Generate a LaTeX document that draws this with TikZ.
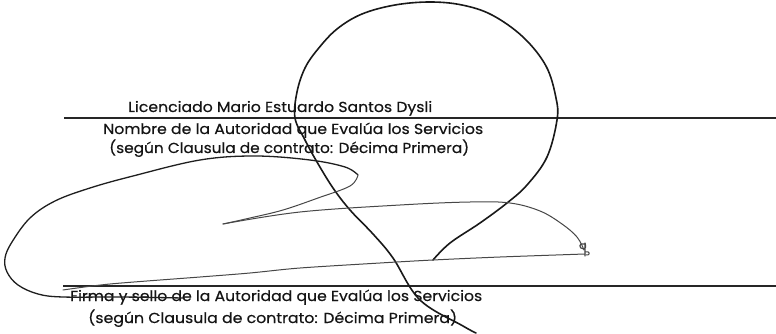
\documentclass[tikz,border=0pt]{standalone}
\usepackage{fontspec}
\newfontfamily\docfont[FakeBold=0.4]{Poppins}
\newcommand{\fitw}[2]{\resizebox{#1pt}{\height}{#2}}
\begin{document}
\begin{tikzpicture}[x=1pt,y=-1pt,
  txt/.style={font=\docfont\fontsize{14.5}{16}\selectfont, inner sep=0pt, anchor=base west, text=black!92},
  rule/.style={line width=1.6pt, black!85},
  pen/.style={line width=1.6pt, black!90, line cap=round, line join=round},
  thinpen/.style={line width=1.0pt, black!72, line cap=round, line join=round},
  midpen/.style={line width=1.3pt, black!88, line cap=round, line join=round}]
\useasboundingbox (0,0) rectangle (776,334);
\fill[white] (0,0) rectangle (776,334);

% rules
\draw[rule] (64,118) -- (776,118);
\draw[rule] (63,286) -- (776,286);

% texts
\node[txt] (l1) at (128,112) {\fitw{304}{Licenciado Mario Estuardo Santos Dysli}};
\node[txt] (l2) at (103,134) {\fitw{380}{Nombre de la Autoridad que Evalúa los Servicios}};
\node[txt] (l3) at (109,153) {\fitw{360}{(según Clausula de contrato: Décima Primera)}};
\node[txt] (b1) at (70,301) {\fitw{412}{Firma y sello de la Autoridad que Evalúa los Servicios}};
\node[txt] (b2) at (88,323) {\fitw{369}{(según Clausula de contrato: Décima Primera)}};

% big loop
\draw[pen] plot[smooth, tension=0.6] coordinates {(476,333) (463,326) (420,300) (393,258) (373,234) (350,210) (333,188) (317,162) (305,140) (295,118) (297,92) (305,68) (318,49) (337,29) (362,14) (395,5) (430,2) (462,5) (492,15) (523,37) (546,66) (556,98) (557,120) (547,157) (527,185) (507,203) (480,223) (450,243) (433,260)};

% left swoop and loop
\draw[midpen] plot[smooth, tension=0.6] coordinates {(183,298) (120,297) (63,297) (38,294) (18,285) (7,272) (5,258) (12,242) (30,218) (55,201) (90,188) (133,176) (200,160) (255,156) (310,160) (345,167) (358,175)};
\draw[thinpen] plot[smooth, tension=0.6] coordinates {(358,175) (350,186) (318,198) (283,210) (250,218) (223,224)};
% long upper stroke to hook
\draw[thinpen] plot[smooth, tension=0.6] coordinates {(223,224) (300,212) (400,205) (470,202) (510,203) (540,211) (562,224) (577,237) (584,250)};
% hook flourish
\draw[thinpen, line width=1.2pt] (584,244) .. controls (579,242) and (578,249) .. (584,249) .. controls (586,249) and (586,246) .. (585,243) -- (585,256);
\draw[thinpen] (585,252) .. controls (590,250) and (591,256) .. (586,255);
% long lower stroke
\draw[thinpen] plot[smooth, tension=0.5] coordinates {(585,254) (500,257) (433,260) (380,263) (300,268) (250,273) (200,277) (110,284) (63,290)};
\end{tikzpicture}
\end{document}
